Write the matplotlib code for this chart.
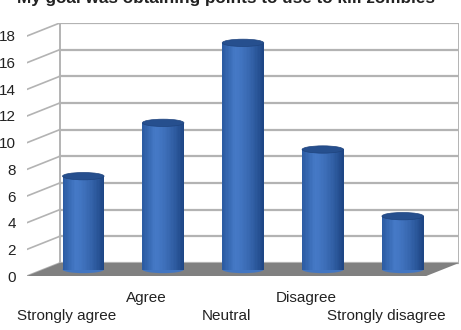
import matplotlib
matplotlib.use('Agg')
import matplotlib.pyplot as plt
from matplotlib.patches import Polygon, Ellipse
import numpy as np

plt.rcParams['font.family'] = ['Liberation Sans', 'DejaVu Sans']

# data
title = 'My goal was obtaining points to use to kill zombies'
categories = ['Strongly agree', 'Agree', 'Neutral', 'Disagree', 'Strongly disagree']
values = [7, 11, 17, 9, 4]
yticks = list(range(0, 19, 2))

# 3d look: depth offset in data units
DX = 0.41
DY = 0.975
ymax = 18
bar_w = 0.52

fig = plt.figure(figsize=(4.61, 3.30), dpi=100)
ax = fig.add_axes([27/461, 54/330, 432/461, 253/330])
ax.set_xlim(-0.5, 4.5 + DX)
ax.set_ylim(0, ymax + DY)
for s in ax.spines.values():
    s.set_visible(False)

grid_c = '#b3b3b3'
# floor
floor = Polygon([(-0.5, 0), (4.5, 0), (4.5 + DX, DY), (-0.5 + DX, DY)],
                closed=True, facecolor='#808080', edgecolor='none', zorder=1)
ax.add_patch(floor)

# back wall + left wall grid
for v in yticks:
    ax.plot([-0.5 + DX, 4.5 + DX], [v + DY, v + DY], color=grid_c, lw=1.6, zorder=0.5)
    ax.plot([-0.5, -0.5 + DX], [v, v + DY], color=grid_c, lw=1.2, zorder=0.5)
ax.plot([-0.5 + DX, -0.5 + DX], [DY, ymax + DY], color=grid_c, lw=1.4, zorder=0.5)
ax.plot([4.5 + DX, 4.5 + DX], [DY, ymax + DY], color=grid_c, lw=1.4, zorder=0.5)

# cylinders
n_strips = 30
xs = np.linspace(0, 1, n_strips)
c_left = np.array([0x2c, 0x5c, 0xa3]) / 255
c_light = np.array([0x45, 0x79, 0xc6]) / 255
c_right = np.array([0x1e, 0x46, 0x85]) / 255
strip_cols = []
for t in xs:
    if t < 0.3:
        c = c_left + (c_light - c_left) * (t / 0.3)
    else:
        c = c_light + (c_right - c_light) * ((t - 0.3) / 0.7) ** 1.5
    strip_cols.append(c)
ell_h = 0.55
sw = bar_w / n_strips
for i, v in enumerate(values):
    xc = i + DX / 2
    base = DY / 2
    ax.add_patch(Ellipse((xc, base), bar_w, ell_h, facecolor=strip_cols[12],
                         edgecolor='none', zorder=2))
    lefts = xc - bar_w / 2 + np.arange(n_strips) * sw
    ax.bar(lefts, v, width=sw * 1.05, bottom=base, align='edge',
           color=strip_cols, edgecolor='none', zorder=3)
    ax.add_patch(Ellipse((xc, v + base), bar_w, ell_h, facecolor='#264f8e',
                         edgecolor='#1f447e', lw=0.5, zorder=4))

# axis labels
ax.set_yticks(yticks)
ax.set_yticklabels([str(t) for t in yticks], fontsize=11, color='#222222')
ax.tick_params(axis='y', length=0, pad=8)
ax.set_xticks([])
for i, name in enumerate(categories):
    off = -22 if i % 2 == 1 else -40
    ax.annotate(name, xy=(i, 0), xycoords='data', xytext=(0, off * 0.72),
                textcoords='offset points', ha='center', va='center',
                fontsize=11, color='#222222', annotation_clip=False)

fig.text(225.5/461, 1 - 3.5/330, title, ha='center', va='baseline',
         fontsize=12.3, fontweight='bold', color='#222222')

fig.savefig('out.png', dpi=100)
